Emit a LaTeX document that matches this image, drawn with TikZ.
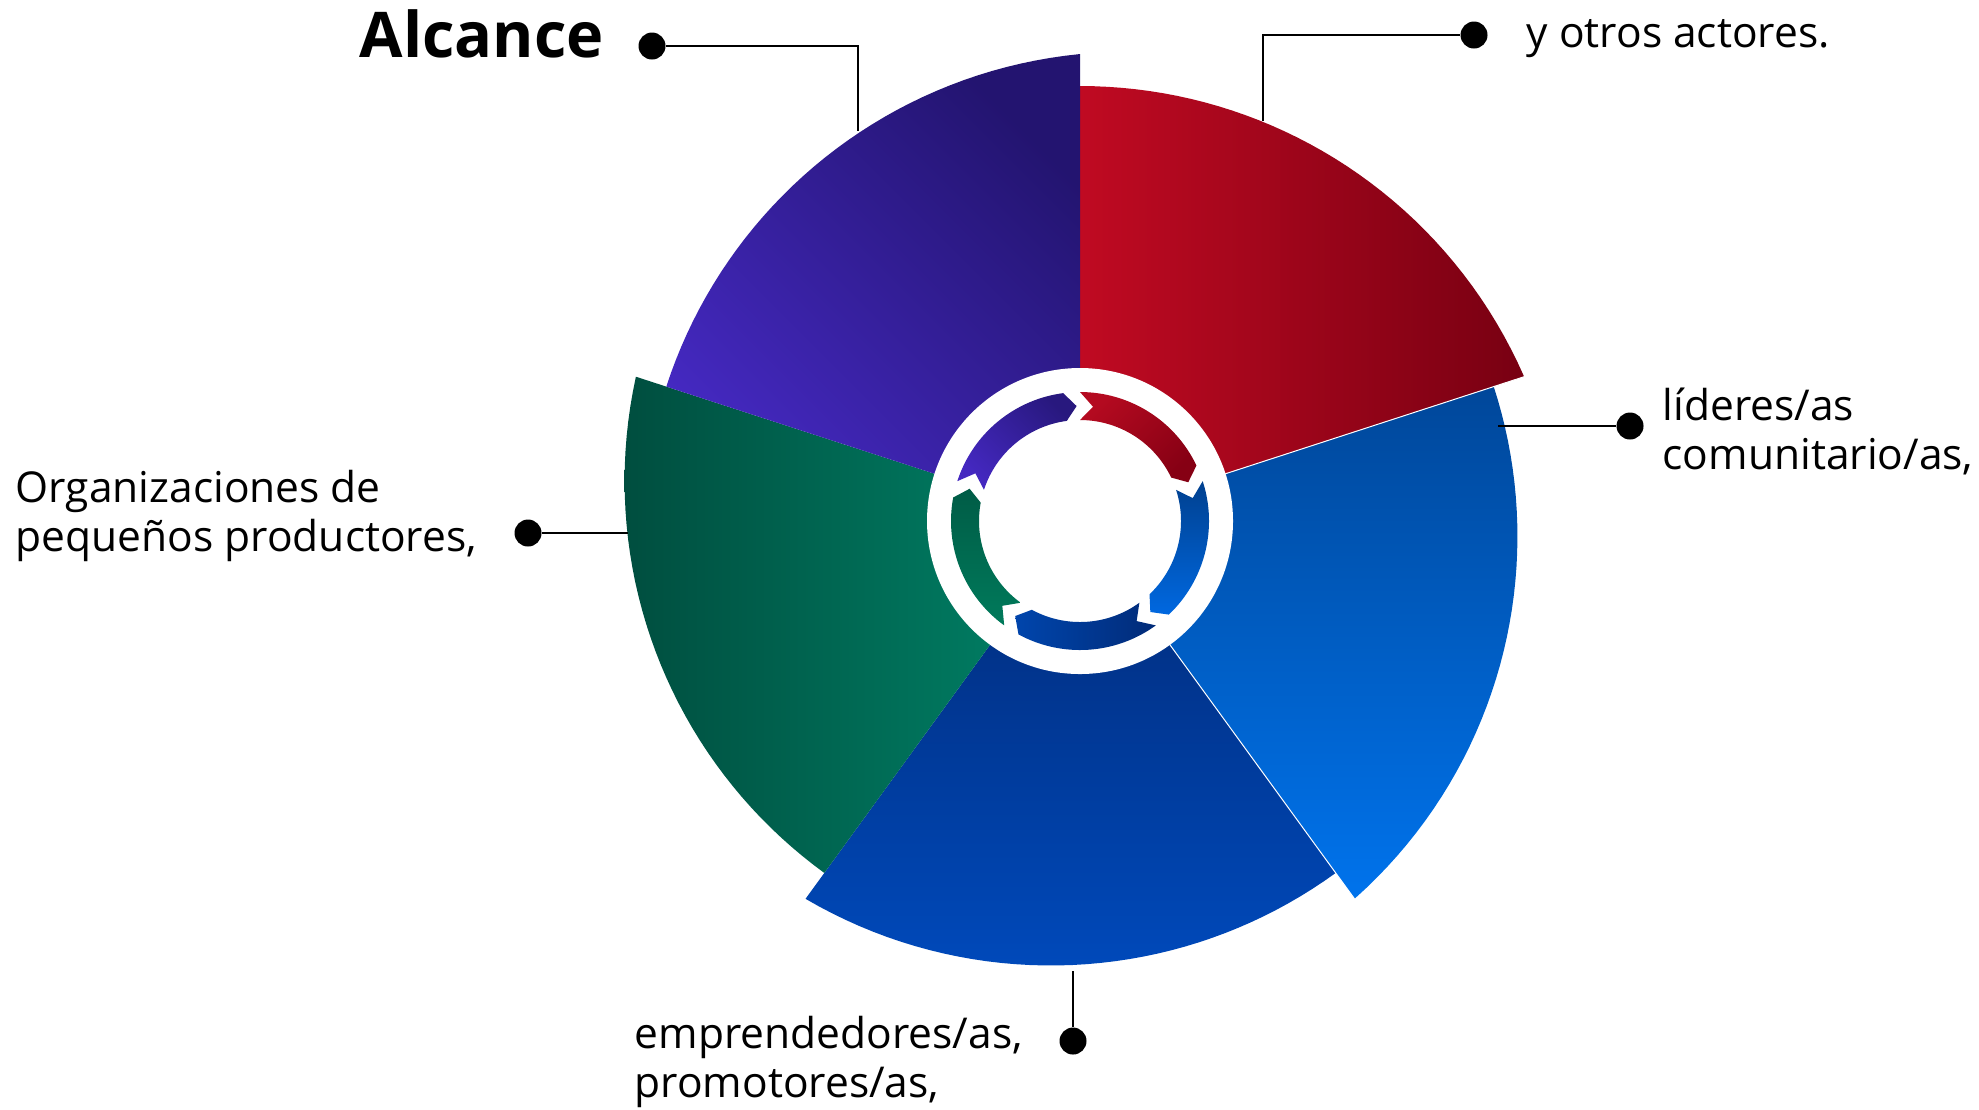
\documentclass[tikz,border=0pt]{standalone}
\usepackage{fontspec}
\setmainfont{Open Sans}

% sector colours (light / dark)
\definecolor{redA}{HTML}{C00A22}   \definecolor{redB}{HTML}{780012}
\definecolor{bluA}{HTML}{00479A}   \definecolor{bluB}{HTML}{0073EC}
\definecolor{navA}{HTML}{012A77}   \definecolor{navB}{HTML}{0049BA}
\definecolor{grnA}{HTML}{004E3F}   \definecolor{grnB}{HTML}{008468}
\definecolor{purA}{HTML}{231470}   \definecolor{purB}{HTML}{4529C2}
% arrow colours
\definecolor{aredA}{HTML}{B40A20}  \definecolor{aredB}{HTML}{860014}
\definecolor{abluA}{HTML}{00408F}  \definecolor{abluB}{HTML}{0068E0}
\definecolor{anavA}{HTML}{0045AC}  \definecolor{anavB}{HTML}{012B78}
\definecolor{agrnA}{HTML}{005C46}  \definecolor{agrnB}{HTML}{007A5B}
\definecolor{apurA}{HTML}{28187E}  \definecolor{apurB}{HTML}{4428C0}

\tikzset{
  dot/.style={circle, fill=black, inner sep=0pt, minimum size=2.7mm},
  lbl/.style={inner sep=0pt, anchor=base west, align=left,
    font=\fontsize{4.25mm}{4.9mm}\selectfont},
  lead/.style={line width=0.25mm},
}

\begin{document}
\begin{tikzpicture}[x=0.1mm, y=0.1mm]
    \useasboundingbox (0,0) rectangle (1979,-1109);

    % wheel
    \begin{scope}[shift={(1080,-521)}]
        \foreach \s/\ca/\cb/\ang in {90/redA/redB/90, 18/bluA/bluB/0,
            -54/navA/navB/0, -126/grnA/grnB/90, 162/purA/purB/-45}
            \shade[top color=\ca, bottom color=\cb, shading angle=\ang]
                (0,0) -- plot[domain=\s:\s-72, samples=40]
                (\x:{100*(-0.496*cos(\x-\s)+sqrt(23.484-0.246*(sin(\x-\s))^2))}) -- cycle;
        \foreach \a/\r in {18/470, -54/472}
            \draw[white, line width=0.1mm] (0,0) -- (\a:\r);

        % inner ring
        \fill[white] (0,0) circle (153);
        \foreach \b/\ca/\cb/\ang in {90/aredA/aredB/45, 18/abluA/abluB/0,
            -54/anavA/anavB/90, -126/agrnA/agrnB/0, 162/apurA/apurB/-45}
            \shade[top color=\ca, bottom color=\cb, shading angle=\ang]
                (\b:129) arc[start angle=\b, end angle=\b-64.5, radius=129]
                -- (\b-70.3:115) -- (\b-64.5:101)
                arc[start angle=\b-64.5, end angle=\b, radius=101]
                -- (\b-6.5:115) -- cycle;
    \end{scope}

    % labels (base = last line)
    \node[lbl, font=\bfseries\fontsize{6.3mm}{7mm}\selectfont] (alc) at (359,-57) {Alcance};
    \node[lbl] (otr) at (1526,-47) {y otros actores.};
    \node[lbl] (lid) at (1662,-469) {líderes/as\\comunitario/as,};
    \node[lbl] (org) at (15,-551) {Organizaciones de\\pequeños productores,};
    \node[lbl] (emp) at (634,-1097) {emprendedores/as,\\promotores/as,};

    % leaders
    \node[dot] (dA) at (652,-46) {};   \coordinate (eA) at (858,-131);
    \node[dot] (dY) at (1474,-35) {};  \coordinate (eY) at (1263,-121);
    \node[dot] (dL) at (1630,-426) {}; \coordinate (eL) at (1498,-426);
    \node[dot] (dO) at (528,-533) {};  \coordinate (eO) at (628,-533);
    \node[dot] (dE) at (1073,-1041) {};\coordinate (eE) at (1073,-971);
    \draw[lead] (dA) -| (eA);
    \draw[lead] (dY) -| (eY);
    \draw[lead] (dL) -- (eL);
    \draw[lead] (dO) -- (eO);
    \draw[lead] (dE) -- (eE);
\end{tikzpicture}
\end{document}
